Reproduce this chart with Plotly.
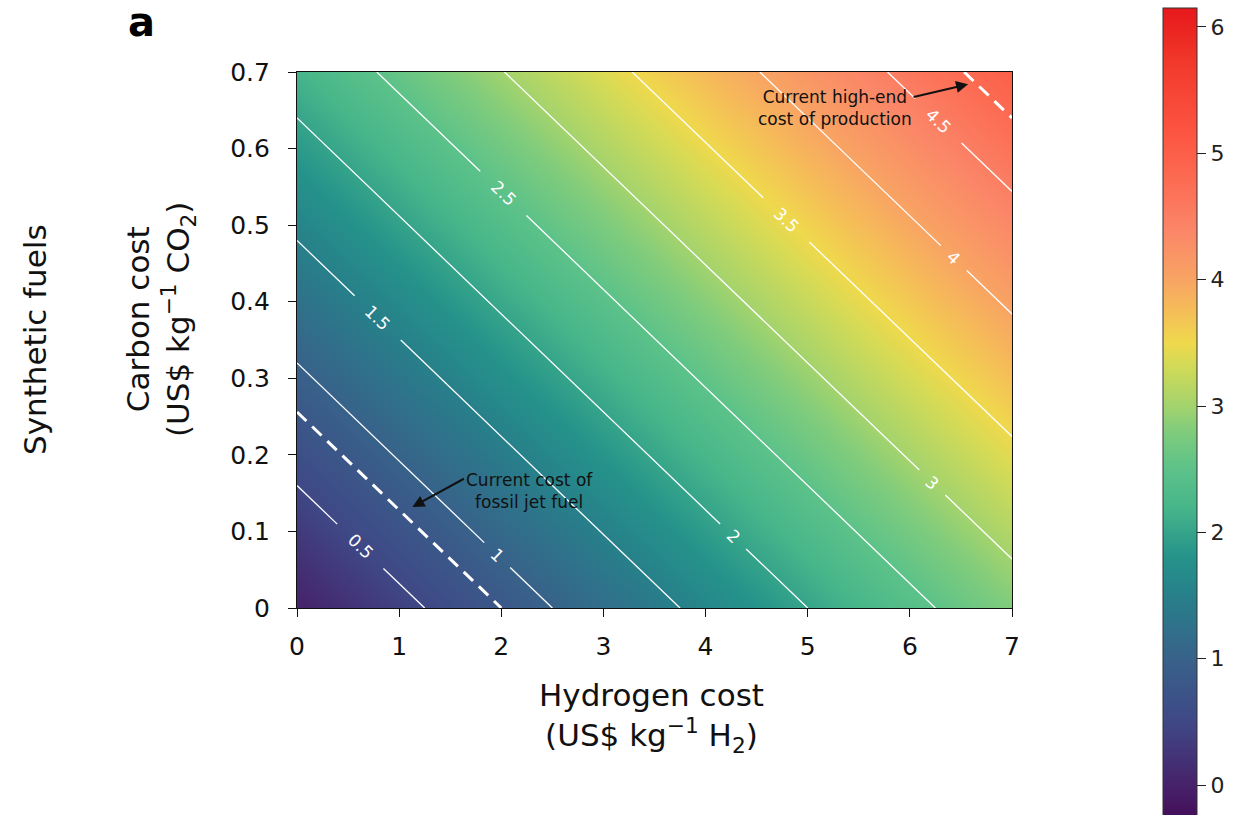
import math
import numpy as np
import plotly.graph_objects as go

# Synthetic jet fuel cost model: cost = H2 price * H2_USE + CO2 price * CO2_USE
H2_USE = 0.4      # kg H2 per kg fuel
CO2_USE = 3.125   # kg CO2 per kg fuel

HYDROGEN_TICKS = [0, 1, 2, 3, 4, 5, 6, 7]
CARBON_TICKS = [0, 0.1, 0.2, 0.3, 0.4, 0.5, 0.6, 0.7]
CARBON_TICK_TEXT = ["0", "0.1", "0.2", "0.3", "0.4", "0.5", "0.6", "0.7"]
CONTOUR_LEVELS = [0.5, 1.0, 1.5, 2.0, 2.5, 3.0, 3.5, 4.0, 4.5]
CONTOUR_LABEL_H = [0.62, 1.96, 0.79, 4.27, 2.02, 6.22, 4.79, 6.43, 6.28]
FOSSIL_JET_COST = 0.8
HIGH_END_COST = 4.8
CBAR_TICKS = [0, 1, 2, 3, 4, 5, 6]

H_MAX, C_MAX = 7.0, 0.7
ZMIN, ZMAX = -0.3, 6.15

# page geometry (pixels)
W, H = 1255, 815
L_M, R_M, T_M, B_M = 297, 243, 72, 207
PW, PH = W - L_M - R_M, H - T_M - B_M


def px(x):
    return (x - L_M) / PW


def py(y):
    return (H - B_M - y) / PH


stops = [
    (-0.3, "#440a57"), (0.0, "#46226a"), (0.5, "#3f4886"), (1.0, "#38628a"),
    (1.5, "#27808a"), (1.8, "#25938a"), (2.0, "#35a48a"), (2.2, "#48b68a"),
    (2.5, "#5cc289"), (2.8, "#80cc7c"), (3.0, "#a3d36d"), (3.3, "#cfda58"),
    (3.5, "#efd94c"), (3.8, "#f6b85a"), (4.0, "#f8a463"), (4.4, "#fb8568"),
    (4.8, "#fc6a52"), (5.2, "#fc5340"), (5.7, "#f23a2c"), (6.15, "#e6181b"),
]
colorscale = [[(v - ZMIN) / (ZMAX - ZMIN), c] for v, c in stops]

hx = np.linspace(0, H_MAX, 240)
cy = np.linspace(0, C_MAX, 240)
HH, CC = np.meshgrid(hx, cy)
Z = HH * H2_USE + CC * CO2_USE

fig = go.Figure()
fig.add_trace(go.Heatmap(
    x=hx, y=cy, z=Z, zmin=ZMIN, zmax=ZMAX, zsmooth="best",
    colorscale=colorscale, hoverinfo="skip",
    colorbar=dict(
        x=px(1163), xanchor="left", xpad=0, thickness=34, thicknessmode="pixels",
        y=py(8), yanchor="top", ypad=0, len=(ZMAX - ZMIN) * 126.3, lenmode="pixels",
        tickvals=CBAR_TICKS, ticks="outside", ticklen=9, tickcolor="#222",
        tickfont=dict(family="DejaVu Sans", size=22, color="#222"),
        outlinewidth=1, outlinecolor="#333",
    ),
))

px_per_h = PW / H_MAX
px_per_c = PH / C_MAX
drop = H2_USE / CO2_USE * px_per_c  # pixels down per unit of hydrogen
angle = math.degrees(math.atan2(drop, px_per_h))
cosang = math.cos(math.radians(angle))


def level_span(level):
    h0 = max(0.0, (level - CO2_USE * C_MAX) / H2_USE)
    h1 = min(H_MAX, level / H2_USE)
    return h0, h1


def c_on(level, h):
    return (level - H2_USE * h) / CO2_USE


annotations = []
for level, hl in zip(CONTOUR_LEVELS, CONTOUR_LABEL_H):
    label = f"{level:g}"
    half_gap = 11 + 7 * len(label)
    dh = half_gap * cosang / px_per_h
    h0, h1 = level_span(level)
    xs = [h0, hl - dh, None, hl + dh, h1]
    ys = [c_on(level, h0), c_on(level, hl - dh), None, c_on(level, hl + dh), c_on(level, h1)]
    fig.add_trace(go.Scatter(x=xs, y=ys, mode="lines", line=dict(color="white", width=1.3),
                             hoverinfo="skip", showlegend=False))
    annotations.append(dict(x=hl, y=c_on(level, hl), text=label, showarrow=False,
                            xanchor="center", yanchor="middle", textangle=angle,
                            font=dict(family="DejaVu Sans", size=17, color="white")))

for level in (FOSSIL_JET_COST, HIGH_END_COST):
    h0, h1 = level_span(level)
    fig.add_trace(go.Scatter(x=[h0, h1], y=[c_on(level, h0), c_on(level, h1)], mode="lines",
                             line=dict(color="white", width=3, dash="13px,8px"),
                             hoverinfo="skip", showlegend=False))


def note(x, y, text, size, angle=0, color="#111"):
    return dict(x=px(x), y=py(y), xref="paper", yref="paper", showarrow=False,
                xanchor="center", yanchor="middle", textangle=angle, align="center",
                text=text, font=dict(family="DejaVu Sans", size=size, color=color))


annotations += [
    note(529, 491, "Current cost of<br>fossil jet fuel", 17),
    dict(x=1.13, y=0.132, ax=53, ay=-29, text="", showarrow=True,
         arrowhead=2, arrowsize=1.2, arrowwidth=2, arrowcolor="#111"),
    note(835, 108, "Current high-end<br>cost of production", 17),
    dict(x=6.57, y=0.684, ax=-56, ay=13, text="", showarrow=True,
         arrowhead=2, arrowsize=1.2, arrowwidth=2, arrowcolor="#111"),
    note(651, 717, "Hydrogen cost<br>(US$ kg<sup>−1</sup> H<sub>2</sub>)", 31),
    note(160, 320, "Carbon cost<br>(US$ kg<sup>−1</sup> CO<sub>2</sub>)", 31, angle=-90),
    note(35, 340, "Synthetic fuels", 31, angle=-90),
    note(141, 22, "<b>a</b>", 40, color="#000"),
]

axis_common = dict(showline=True, mirror=True, linecolor="#111", linewidth=1.2,
                   ticks="outside", ticklen=8, tickcolor="#111", showgrid=False, zeroline=False,
                   tickfont=dict(family="DejaVu Sans", size=25, color="#111"))
fig.update_layout(
    width=W, height=H,
    margin=dict(l=L_M, r=R_M, t=T_M, b=B_M, autoexpand=False),
    paper_bgcolor="white", plot_bgcolor="white",
    xaxis=dict(range=[0, H_MAX], tickvals=HYDROGEN_TICKS, ticklabelstandoff=8, **axis_common),
    yaxis=dict(range=[0, C_MAX], tickvals=CARBON_TICKS, ticktext=CARBON_TICK_TEXT,
               ticklabelstandoff=13, **axis_common),
    annotations=annotations,
    showlegend=False,
)

fig.write_html("out.html")
